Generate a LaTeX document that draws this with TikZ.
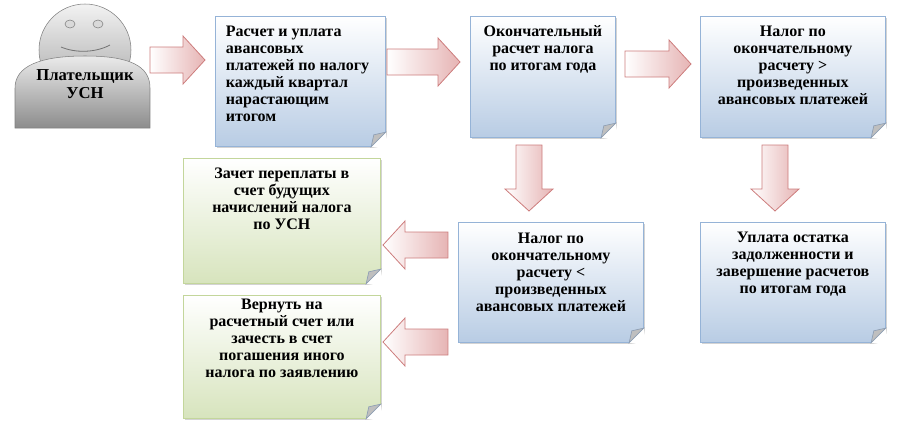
\documentclass[tikz,border=0pt]{standalone}
\usepackage{fontspec}
\setmainfont{Liberation Serif}
\usetikzlibrary{shadows}
\definecolor{bluebot}{RGB}{184,204,228}
\definecolor{blueline}{RGB}{149,179,215}
\definecolor{greenbot}{RGB}{215,228,189}
\definecolor{greenline}{RGB}{195,214,155}
\definecolor{pinkbot}{RGB}{230,180,180}
\definecolor{pinkline}{RGB}{205,125,125}
\tikzset{
 bx/.style={draw=#1line, line width=0.6pt, top color=white, bottom color=#1bot,
   inner sep=0pt, anchor=north west, drop shadow={opacity=0.35,shadow xshift=1.5pt,shadow yshift=-1.5pt}},
 txt/.style={font=\bfseries\fontsize{12}{12.75}\selectfont, inner sep=0pt, anchor=north},
}
\newcommand{\fold}[1]{%
 \fill[white] ([xshift=-11pt]#1.south east) -- ([xshift=2pt,yshift=-2pt]#1.south east) -- ([yshift=11pt]#1.south east) -- cycle;
 \draw[blueline!60!gray, fill=black!25, line width=0.5pt] ([xshift=-11pt]#1.south east) -- ([xshift=-9pt,yshift=9pt]#1.south east) -- ([yshift=11pt]#1.south east) -- cycle;}
\newcommand{\arrowpic}[5]{% x y length rotation shadingangle
 \begin{scope}[shift={(#1,#2)}, rotate=#4]
  \path[draw=pinkline, line width=0.6pt, top color=white, bottom color=pinkbot, shading angle=#5]
     (0,-13) -- (#3-22,-13) -- (#3-22,-24) -- (#3,0) -- (#3-22,24) -- (#3-22,13) -- (0,13) -- cycle;
 \end{scope}}
\begin{document}
\begin{tikzpicture}[x=0.75pt,y=-0.75pt]
\useasboundingbox (0,0) rectangle (903,433);
% person
\node[circle, draw=gray, top color=black!5, bottom color=black!35, minimum size=92*0.75pt, inner sep=0pt] (head) at (85,50) {};
\draw[gray, fill=black!15] (70,24) ellipse (5 and 4);
\draw[gray, fill=black!15] (98,24) ellipse (5 and 4);
\path[draw=gray, top color=black!8, bottom color=black!45] (15,128) -- (15,88) .. controls (15,66) and (40,56) .. (85,56) .. controls (130,56) and (150,66) .. (150,88) -- (150,128) -- cycle;
\draw[black!55, line width=0.6pt] (61,47) .. controls (75,53) and (95,53) .. (110,45);
\node[font=\bfseries\fontsize{12.5}{13.5}\selectfont, align=center] (person) at (85,84) {Плательщик\\УСН};
% boxes
\node[bx=blue, minimum width=170*0.75pt, minimum height=130*0.75pt] (b1) at (215,16) {};
\node[bx=blue, minimum width=145*0.75pt, minimum height=121*0.75pt] (b2) at (470,16) {};
\node[bx=blue, minimum width=185*0.75pt, minimum height=121*0.75pt] (b3) at (700,16) {};
\node[bx=green, minimum width=197*0.75pt, minimum height=125*0.75pt] (b4) at (183,158) {};
\node[bx=blue, minimum width=185*0.75pt, minimum height=120*0.75pt] (b5) at (458,222) {};
\node[bx=blue, minimum width=185*0.75pt, minimum height=120*0.75pt] (b6) at (700,222) {};
\node[bx=green, minimum width=197*0.75pt, minimum height=123*0.75pt] (b7) at (183,295) {};
\foreach \b in {b1,b2,b3,b4,b5,b6,b7}{\fold{\b}}
\node[txt, anchor=north west, align=left] (t1) at ([xshift=8pt,yshift=-7pt]b1.north west) {Расчет и уплата\\авансовых\\платежей по налогу\\каждый квартал\\нарастающим\\итогом};
\node[txt, align=center] (t2) at ([yshift=-7pt]b2.north) {Окончательный\\расчет налога\\по итогам года};
\node[txt, align=center] (t3) at ([yshift=-7pt]b3.north) {Налог по\\окончательному\\расчету >\\произведенных\\авансовых платежей};
\node[txt, align=center] (t4) at ([yshift=-7pt]b4.north) {Зачет переплаты в\\счет будущих\\начислений налога\\по УСН};
\node[txt, align=center] (t5) at ([yshift=-8pt]b5.north) {Налог по\\окончательному\\расчету <\\произведенных\\авансовых платежей};
\node[txt, align=center] (t6) at ([yshift=-7pt]b6.north) {Уплата остатка\\задолженности и\\завершение расчетов\\по итогам года};
\node[txt, align=center] (t7) at ([yshift=-3pt]b7.north) {Вернуть на\\расчетный счет или\\зачесть в счет\\погашения иного\\налога по заявлению};
% arrows
\arrowpic{150}{60}{55}{0}{90}
\arrowpic{387}{62}{73}{0}{90}
\arrowpic{625}{64}{66}{0}{90}
\arrowpic{529}{145}{66}{-90}{90}
\arrowpic{775}{145}{66}{-90}{90}
\arrowpic{448}{245}{65}{180}{90}
\arrowpic{448}{342}{65}{180}{90}
\end{tikzpicture}
\end{document}
